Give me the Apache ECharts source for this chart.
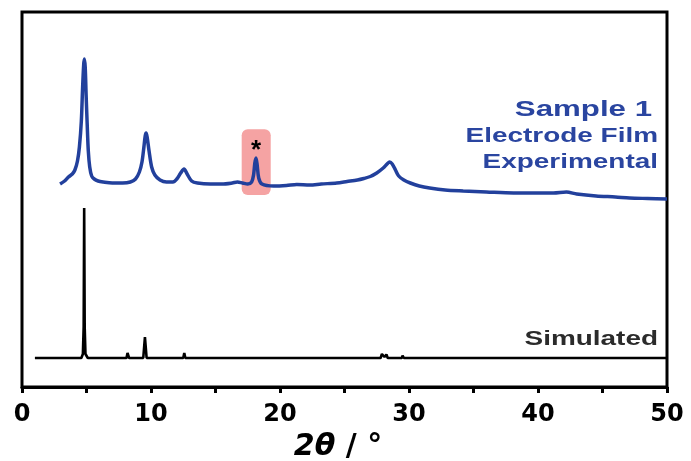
<!DOCTYPE html>
<html>
<head>
<meta charset="utf-8">
<script src="https://cdn.jsdelivr.net/npm/echarts@6/dist/echarts.min.js"></script>
<style>html,body{margin:0;padding:0;background:#fff}#c{width:691px;height:461px}</style>
</head>
<body>
<div id="c"></div>
<script>
// x tick labels (2theta, degrees)
var xTicks = [0, 10, 20, 30, 40, 50];

// Experimental pattern (2theta, intensity in arbitrary units, offset)
var experimental = [
  [2.95,203],[3.3,206],[3.6,210],[3.9,213],[4.1,217],[4.3,226],[4.45,240],[4.6,266],[4.7,300],[4.78,322],
  [4.83,328],[4.9,320],[4.97,292],[5.05,264],[5.14,236],[5.25,220],[5.4,211],[5.6,208],[5.9,206],[6.3,205],
  [7.0,204],[7.8,204],[8.4,205],[8.8,208],[9.1,215],[9.3,225],[9.45,240],[9.55,251],[9.62,254],[9.7,250],
  [9.85,236],[10.05,220],[10.3,212],[10.7,207],[11.2,205],[11.7,205],[12.0,208],[12.3,214],[12.56,218],[12.8,213],
  [13.15,206],[13.6,204],[14.6,203],[15.5,203],[16.3,204],[16.7,205],[17.1,204],[17.5,203],[17.8,205],[17.95,212],
  [18.05,224],[18.14,229],[18.23,222],[18.35,209],[18.6,203],[19.5,201],[20.5,201.5],[21.3,202.5],[22.3,202],[23.2,203],
  [24.4,204],[25.2,205.5],[26.0,207],[26.5,208.5],[27.0,210.5],[27.5,214],[28.0,219],[28.3,223],[28.5,225],[28.7,223],
  [28.95,217],[29.2,211],[29.6,207],[30.1,204],[30.8,201],[31.6,199],[32.8,197],[34.2,196],[36,195],[38.1,194],
  [40,194],[41.2,194],[42.2,195],[43,193],[44.5,191],[46,190],[47.1,189],[48.5,188.5],[50,188]
];

// Simulated pattern
var simulated = [
  [1.0,29],[4.6,29],[4.72,33],[4.78,60],[4.82,179],[4.86,60],[4.92,33],[5.1,29],
  [8.1,29],[8.18,34],[8.3,29],[9.4,29],[9.48,42],[9.53,50],[9.58,42],[9.66,29],
  [12.5,29],[12.58,34],[12.66,29],[14.25,29],[14.3,31],[14.35,29],[16.45,29],[16.5,31],[16.55,29],
  [19.05,29],[19.1,30.5],[19.15,29],[20.85,29],[20.9,30],[20.95,29],[21.75,29],[21.8,30],[21.85,29],
  [23.95,29],[24.0,30],[24.05,29],[24.85,29],[24.9,30.5],[24.95,29],[25.25,29],[25.3,30.5],[25.35,29],
  [27.8,29],[27.9,33],[28.0,31],[28.1,30],[28.25,32.5],[28.35,29],[29.45,29],[29.5,31.5],[29.6,29],
  [30.6,29],[30.65,30],[30.7,29],[31.35,29],[31.4,30],[31.45,29],[32.5,29],[32.55,30],[32.6,29],
  [33.6,29],[33.65,30],[33.7,29],[35.0,29],[35.05,30],[35.1,29],[36.7,29],[36.75,30],[36.8,29],
  [37.5,29],[37.55,30],[37.6,29],[38.4,29],[38.45,30],[38.5,29],[39.2,29],[39.25,30],[39.3,29],
  [40.1,29],[40.15,30],[40.2,29],[41.0,29],[41.05,30],[41.1,29],[42.0,29],[42.05,30],[42.1,29],
  [43.1,29],[43.15,30],[43.2,29],[44.5,29],[44.55,30],[44.6,29],[45.7,29],[45.75,30],[45.8,29],
  [47.0,29],[47.05,30],[47.1,29],[48.3,29],[48.35,30],[48.4,29],[50,29]
];

// Highlighted impurity peak region [x0, y0, x1, y1]
var highlight = [[17.03, 192, 19.28, 257.7]];

var chart = echarts.init(document.getElementById('c'));
chart.setOption({
  animation: false,
  grid: {left: 22, right: 24, top: 12, bottom: 74, outerBoundsMode: 'none', containLabel: false,
         show: true, borderColor: '#000', borderWidth: 3, backgroundColor: 'transparent'},
  xAxis: {
    type: 'value', min: 0, max: 50, interval: 5,
    name: '{i|2θ}{n| / °}',
    nameLocation: 'middle', nameGap: 45,
    nameTextStyle: {
      padding: [0, 13, 0, 0],
      rich: {
        i: {fontFamily: 'DejaVu Sans', fontWeight: 'bold', fontStyle: 'italic', fontSize: 30, color: '#000'},
        n: {fontFamily: 'DejaVu Sans', fontWeight: 'bold', fontSize: 30, color: '#000'}
      }
    },
    axisLine: {show: true, lineStyle: {color: '#000', width: 3}},
    axisTick: {show: true, inside: false, length: 6, lineStyle: {color: '#000', width: 3}},
    splitLine: {show: false},
    axisLabel: {
      margin: 16, color: '#000', fontFamily: 'DejaVu Sans', fontWeight: 'bold', fontSize: 24,
      formatter: function (v) { return xTicks.indexOf(v) >= 0 ? String(v) : ''; }
    }
  },
  yAxis: {type: 'value', min: 0, max: 375, show: false},
  series: [
    {
      type: 'custom', data: highlight, z: 1, silent: true,
      renderItem: function (params, api) {
        var p0 = api.coord([api.value(0), api.value(3)]);
        var p1 = api.coord([api.value(2), api.value(1)]);
        var star = api.coord([18.14, 238]);
        return {type: 'group', children: [
          {type: 'rect', shape: {x: p0[0], y: p0[1], width: p1[0] - p0[0], height: p1[1] - p0[1], r: 6},
           style: {fill: '#f5a3a3'}},
          {type: 'text', x: star[0], y: star[1] + 2, z2: 10,
           style: {text: '*', fill: '#000', font: 'bold 26px "Liberation Sans"', align: 'center', verticalAlign: 'middle'}}
        ]};
      }
    },
    {
      type: 'line', data: experimental, showSymbol: false, symbol: 'none', z: 3,
      lineStyle: {color: '#22409c', width: 3.5}, smooth: 0.3
    },
    {
      type: 'line', data: simulated, showSymbol: false, symbol: 'none', z: 3,
      lineStyle: {color: '#000', width: 2.6}
    }
  ],
  graphic: [
    {type: 'text', x: 652, y: 99, scaleX: 1.42, z: 10,
     style: {text: 'Sample 1', fill: '#2a45a0', font: 'bold 22px "Liberation Sans"', align: 'right', verticalAlign: 'top'}},
    {type: 'text', x: 658, y: 126, scaleX: 1.33, z: 10,
     style: {text: 'Electrode Film', fill: '#2a45a0', font: 'bold 21px "Liberation Sans"', align: 'right', verticalAlign: 'top'}},
    {type: 'text', x: 658, y: 152, scaleX: 1.33, z: 10,
     style: {text: 'Experimental', fill: '#2a45a0', font: 'bold 21px "Liberation Sans"', align: 'right', verticalAlign: 'top'}},
    {type: 'text', x: 658, y: 329, scaleX: 1.33, z: 10,
     style: {text: 'Simulated', fill: '#2b2b2b', font: 'bold 21px "Liberation Sans"', align: 'right', verticalAlign: 'top'}}
  ]
});
</script>
</body>
</html>
